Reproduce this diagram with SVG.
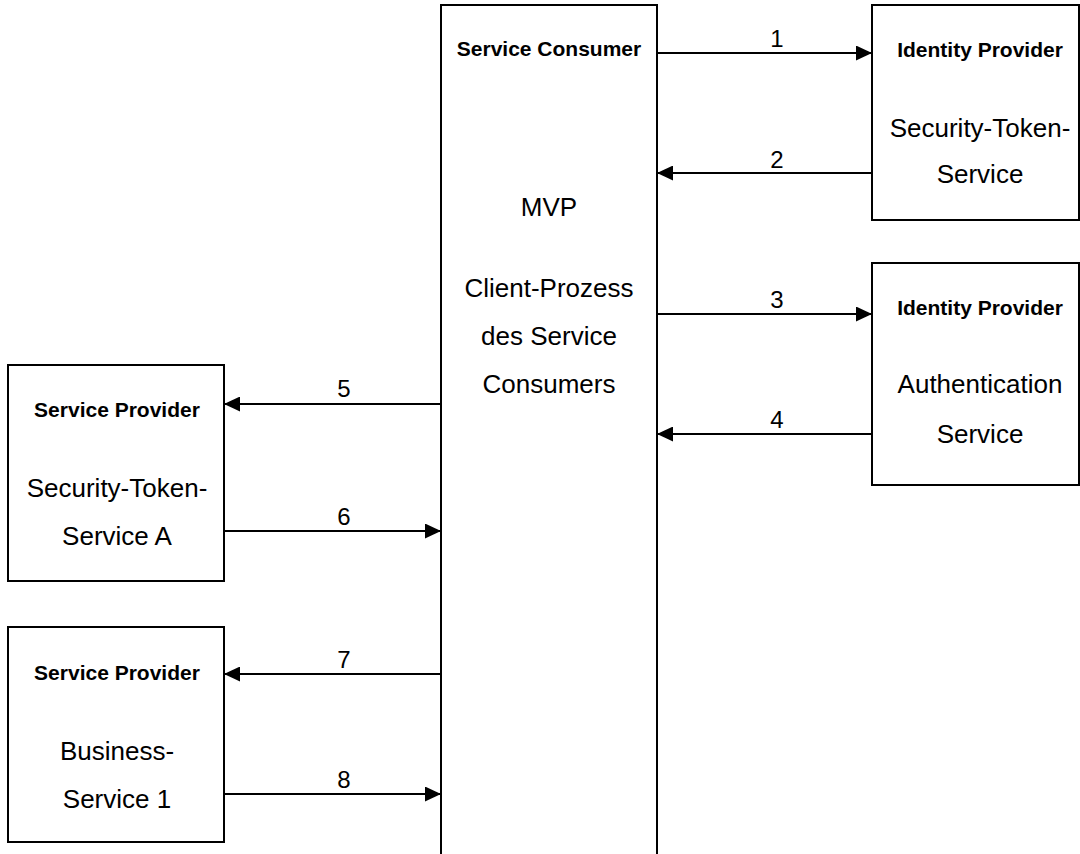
<svg xmlns="http://www.w3.org/2000/svg" width="1080" height="854" viewBox="0 0 1080 854">
<style>
.box{fill:#fff;stroke:#000;stroke-width:2}
.t{font-family:"Liberation Sans",Arial,sans-serif;font-size:26px;fill:#000;text-anchor:middle}
.b{font-family:"Liberation Sans",Arial,sans-serif;font-size:21px;font-weight:bold;fill:#000;text-anchor:middle}
.n{font-family:"Liberation Sans",Arial,sans-serif;font-size:24px;fill:#000;text-anchor:middle}
.c{stroke:#000;stroke-width:2;fill:none;marker-end:url(#ah)}
</style>
<defs>
<marker id="ah" markerUnits="userSpaceOnUse" markerWidth="16" markerHeight="15" refX="16" refY="7.5" orient="auto">
<path d="M0,0 L16,7.5 L0,15 z" fill="#000"/>
</marker>
</defs>
<rect width="1080" height="854" fill="#fff"/>
<g id="consumer">
<rect class="box" x="441" y="5" width="216" height="860"/>
<text class="b" x="549" y="56">Service Consumer</text>
<text class="t" x="549" y="216">MVP</text>
<text class="t" x="549" y="297">Client-Prozess</text>
<text class="t" x="549" y="345">des Service</text>
<text class="t" x="549" y="393">Consumers</text>
</g>
<g id="idp-sts">
<rect class="box" x="872" y="5" width="207" height="215"/>
<text class="b" x="980" y="57">Identity Provider</text>
<text class="t" x="980" y="137">Security-Token-</text>
<text class="t" x="980" y="183">Service</text>
</g>
<g id="idp-auth">
<rect class="box" x="872" y="263" width="207" height="222"/>
<text class="b" x="980" y="315">Identity Provider</text>
<text class="t" x="980" y="393">Authentication</text>
<text class="t" x="980" y="443">Service</text>
</g>
<g id="sp-sts">
<rect class="box" x="8" y="365" width="216" height="216"/>
<text class="b" x="117" y="417">Service Provider</text>
<text class="t" x="117" y="497">Security-Token-</text>
<text class="t" x="117" y="545">Service A</text>
</g>
<g id="sp-business">
<rect class="box" x="8" y="627" width="216" height="215"/>
<text class="b" x="117" y="680">Service Provider</text>
<text class="t" x="117" y="760">Business-</text>
<text class="t" x="117" y="808">Service 1</text>
</g>
<g id="connectors">
<line class="c" x1="657" y1="53" x2="872" y2="53"/>
<line class="c" x1="872" y1="173" x2="657" y2="173"/>
<line class="c" x1="657" y1="314" x2="872" y2="314"/>
<line class="c" x1="872" y1="434" x2="657" y2="434"/>
<line class="c" x1="441" y1="404" x2="224" y2="404"/>
<line class="c" x1="224" y1="531" x2="441" y2="531"/>
<line class="c" x1="441" y1="674" x2="224" y2="674"/>
<line class="c" x1="224" y1="794" x2="441" y2="794"/>
<text class="n" x="777" y="47">1</text>
<text class="n" x="777" y="168">2</text>
<text class="n" x="777" y="308">3</text>
<text class="n" x="777" y="428">4</text>
<text class="n" x="344" y="397">5</text>
<text class="n" x="344" y="525">6</text>
<text class="n" x="344" y="668">7</text>
<text class="n" x="344" y="788">8</text>
</g>
</svg>
